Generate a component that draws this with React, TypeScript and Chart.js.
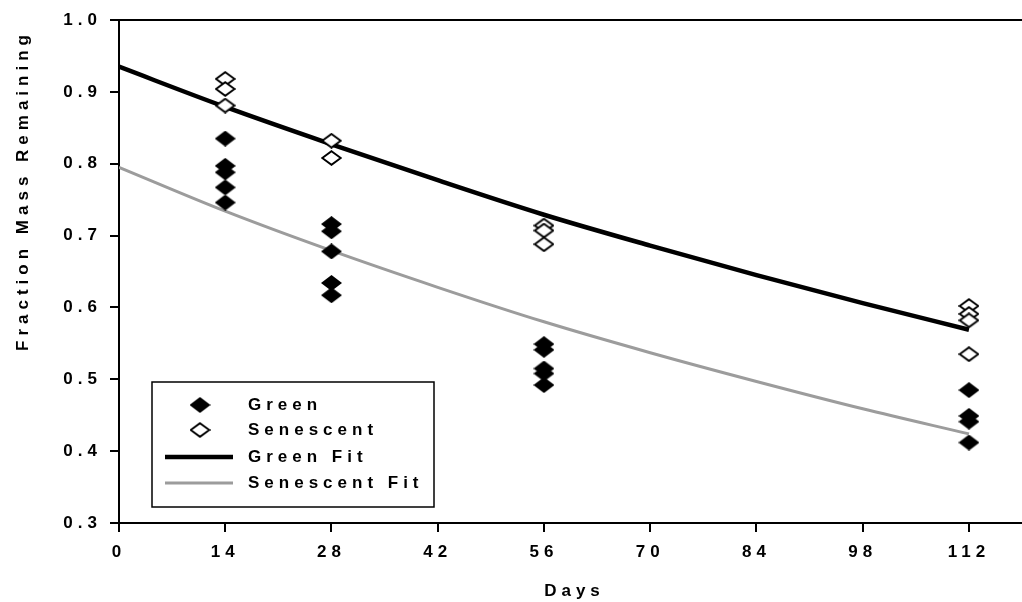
import React, { useEffect, useRef } from 'react';
import { Chart, registerables } from 'chart.js';

Chart.register(...registerables);

// ---- data ----
const SAMPLE_DAYS = [14, 28, 56, 112];
const GREEN_VALUES = [
  [0.835, 0.797, 0.788, 0.767, 0.746],
  [0.716, 0.706, 0.678, 0.634, 0.617],
  [0.549, 0.541, 0.515, 0.508, 0.492],
  [0.485, 0.449, 0.441, 0.412],
];
const SENESCENT_VALUES = [
  [0.918, 0.904, 0.881],
  [0.832, 0.808],
  [0.714, 0.707, 0.688],
  [0.602, 0.591, 0.582, 0.535],
];
const FIT_DAYS = [0, 14, 28, 42, 56, 70, 84, 98, 112];
const GREEN_FIT = [0.935, 0.879, 0.827, 0.777, 0.729, 0.686, 0.645, 0.606, 0.569];
const SENESCENT_FIT = [0.795, 0.734, 0.679, 0.628, 0.58, 0.537, 0.497, 0.459, 0.424];

const X_TICKS = [0, 14, 28, 42, 56, 70, 84, 98, 112];
const Y_TICKS = [0.3, 0.4, 0.5, 0.6, 0.7, 0.8, 0.9, 1.0];
const X_MIN = 0;
const X_MAX = 117.8;
const Y_MIN = 0.3;
const Y_MAX = 1.0;

const LEGEND_LABELS = ['Green', 'Senescent', 'Green Fit', 'Senescent Fit'];
const X_TITLE = 'Days';
const Y_TITLE = 'Fraction Mass Remaining';

// ---- styles ----
const FONT_FAMILY = '"Liberation Sans", Arial, Helvetica, sans-serif';
const FONT_SIZE = 17;
const SPACING = '5px';
const SENESCENT_LINE = '#9c9c9c';

function makeDiamond(filled: boolean): HTMLCanvasElement {
  const c = document.createElement('canvas');
  c.width = 21;
  c.height = 16;
  const g = c.getContext('2d')!;
  g.beginPath();
  if (filled) {
    g.moveTo(10.5, 0);
    g.lineTo(21, 8);
    g.lineTo(10.5, 16);
    g.lineTo(0, 8);
    g.closePath();
    g.fillStyle = '#000';
    g.fill();
  } else {
    g.moveTo(10.5, 1.2);
    g.lineTo(19.8, 8);
    g.lineTo(10.5, 14.8);
    g.lineTo(1.2, 8);
    g.closePath();
    g.fillStyle = '#fff';
    g.fill();
    g.lineWidth = 2;
    g.strokeStyle = '#000';
    g.stroke();
  }
  return c;
}

export default function App() {
  const ref = useRef<HTMLCanvasElement | null>(null);

  useEffect(() => {
    const canvas = ref.current;
    if (!canvas) return;
    const filled = makeDiamond(true);
    const hollow = makeDiamond(false);

    const greenPts = SAMPLE_DAYS.flatMap((d, i) => GREEN_VALUES[i].map((v) => ({ x: d, y: v })));
    const senPts = SAMPLE_DAYS.flatMap((d, i) => SENESCENT_VALUES[i].map((v) => ({ x: d, y: v })));
    const greenFit = FIT_DAYS.map((d, i) => ({ x: d, y: GREEN_FIT[i] }));
    const senFit = FIT_DAYS.map((d, i) => ({ x: d, y: SENESCENT_FIT[i] }));

    const font = `bold ${FONT_SIZE}px ${FONT_FAMILY}`;

    const decor = {
      id: 'decor',
      beforeUpdate(chart: any) {
        chart.ctx.letterSpacing = SPACING;
      },
      beforeLayout(chart: any) {
        chart.ctx.letterSpacing = SPACING;
      },
      beforeDraw(chart: any) {
        chart.ctx.letterSpacing = SPACING;
      },
      afterDraw(chart: any) {
        const { ctx, chartArea: a } = chart;
        const W = chart.width;
        ctx.save();
        // frame lines: top line and x-axis continuation to the canvas edge
        ctx.strokeStyle = '#000';
        ctx.lineWidth = 2;
        ctx.beginPath();
        ctx.moveTo(a.left - 9, a.top);
        ctx.lineTo(W, a.top);
        ctx.moveTo(a.right - 1, a.bottom);
        ctx.lineTo(W, a.bottom);
        ctx.stroke();

        // axis titles
        ctx.font = font;
        ctx.letterSpacing = SPACING;
        ctx.fillStyle = '#000';
        ctx.textAlign = 'center';
        ctx.textBaseline = 'middle';
        ctx.fillText(X_TITLE, (a.left + W) / 2 + 4, 591);
        ctx.save();
        ctx.translate(23, 193);
        ctx.rotate(-Math.PI / 2);
        ctx.fillText(Y_TITLE, 2.5, 0);
        ctx.restore();

        // legend box
        const bx = a.left + 33;
        const by = a.top + 362;
        const bw = 282;
        const bh = 125;
        ctx.fillStyle = '#fff';
        ctx.fillRect(bx, by, bw, bh);
        ctx.strokeStyle = '#000';
        ctx.lineWidth = 1.5;
        ctx.strokeRect(bx, by, bw, bh);

        const rows = [by + 23, by + 48, by + 75, by + 101];
        const mx = bx + 48;
        ctx.drawImage(filled, mx - filled.width / 2, rows[0] - filled.height / 2);
        ctx.drawImage(hollow, mx - hollow.width / 2, rows[1] - hollow.height / 2);
        ctx.lineCap = 'butt';
        ctx.strokeStyle = '#000';
        ctx.lineWidth = 4.5;
        ctx.beginPath();
        ctx.moveTo(bx + 13, rows[2]);
        ctx.lineTo(bx + 81, rows[2]);
        ctx.stroke();
        ctx.strokeStyle = SENESCENT_LINE;
        ctx.lineWidth = 3;
        ctx.beginPath();
        ctx.moveTo(bx + 13, rows[3]);
        ctx.lineTo(bx + 81, rows[3]);
        ctx.stroke();

        ctx.fillStyle = '#000';
        ctx.textAlign = 'left';
        ctx.textBaseline = 'middle';
        LEGEND_LABELS.forEach((t, i) => ctx.fillText(t, bx + 96, rows[i]));
        ctx.restore();
      },
    };

    const chart = new Chart(canvas, {
      type: 'scatter',
      data: {
        datasets: [
          {
            label: LEGEND_LABELS[1],
            data: senPts,
            pointStyle: hollow as any,
            pointRadius: 8,
            showLine: false,
            order: 0,
          },
          {
            label: LEGEND_LABELS[0],
            data: greenPts,
            pointStyle: filled as any,
            pointRadius: 8,
            showLine: false,
            order: 1,
          },
          {
            type: 'line',
            label: LEGEND_LABELS[2],
            data: greenFit,
            borderColor: '#000',
            borderWidth: 4.5,
            pointRadius: 0,
            cubicInterpolationMode: 'monotone',
            fill: false,
            order: 2,
          } as any,
          {
            type: 'line',
            label: LEGEND_LABELS[3],
            data: senFit,
            borderColor: SENESCENT_LINE,
            borderWidth: 3,
            pointRadius: 0,
            cubicInterpolationMode: 'monotone',
            fill: false,
            order: 3,
          } as any,
        ],
      },
      options: {
        responsive: false,
        animation: false,
        events: [],
        layout: { padding: { top: 20, right: 0, left: 0, bottom: 0 } },
        plugins: {
          legend: { display: false },
          tooltip: { enabled: false },
          title: { display: false },
        },
        scales: {
          x: {
            type: 'linear',
            min: X_MIN,
            max: X_MAX,
            afterBuildTicks: (s: any) => {
              s.ticks = X_TICKS.map((v) => ({ value: v }));
            },
            afterFit: (s: any) => {
              s.height = 79;
              s.paddingRight = 0;
              s.paddingLeft = 0;
            },
            grid: {
              drawOnChartArea: false,
              drawTicks: true,
              tickLength: 9,
              color: '#000',
              lineWidth: 2,
            },
            border: { display: true, color: '#000', width: 2 },
            ticks: {
              color: '#000',
              font: { family: FONT_FAMILY, size: FONT_SIZE, weight: 'bold' },
              padding: 10,
              maxRotation: 0,
              autoSkip: false,
              callback: (v: any) => String(v),
            },
          },
          y: {
            type: 'linear',
            min: Y_MIN,
            max: Y_MAX,
            afterBuildTicks: (s: any) => {
              s.ticks = Y_TICKS.map((v) => ({ value: v }));
            },
            afterFit: (s: any) => {
              s.width = 119;
              s.paddingTop = 0;
              s.paddingBottom = 0;
            },
            grid: {
              drawOnChartArea: false,
              drawTicks: true,
              tickLength: 9,
              color: '#000',
              lineWidth: 2,
            },
            border: { display: true, color: '#000', width: 2 },
            ticks: {
              color: '#000',
              font: { family: FONT_FAMILY, size: FONT_SIZE, weight: 'bold' },
              padding: 8,
              autoSkip: false,
              callback: (v: any) => Number(v).toFixed(1),
            },
          },
        },
      } as any,
      plugins: [decor],
    });

    return () => chart.destroy();
  }, []);

  return (
    <div style={{ position: 'absolute', left: 0, top: 0, width: 1022, height: 602, background: '#fff' }}>
      <canvas ref={ref} width={1022} height={602} style={{ display: 'block' }} />
    </div>
  );
}
